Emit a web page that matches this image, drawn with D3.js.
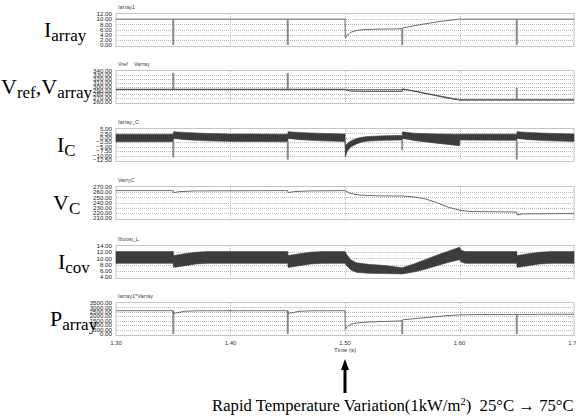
<!DOCTYPE html>
<html lang="en">
<head>
<meta charset="UTF-8">
<title>PV array response to rapid temperature variation</title>
<script src="https://d3js.org/d3.v7.min.js"></script>
<style>
  body { margin: 0; background: #fff; }
  svg { display: block; }
</style>
</head>
<body>
<svg width="576" height="418"></svg>
<script>
// ---- data ----
const timeDomain = [1.30, 1.70];
const timeTicks = [1.30, 1.40, 1.50, 1.60, 1.70];
const timeGrid = [1.40, 1.50, 1.60];

// panel 1: Iarray1 (A)
const iarrayTicks = [0, 2, 4, 6, 8, 10, 12];
const iarrayLine = [[1.30,10],[1.50,10],[1.5003,2.7],[1.502,3.9],[1.505,4.9],[1.51,5.6],[1.515,5.9],[1.525,6.1],
  [1.54,6.2],[1.55,6.3],[1.5503,6.6],[1.56,7.4],[1.57,8.2],[1.58,8.9],[1.59,9.5],[1.60,10],[1.70,10]];
const iarraySpikes = [[1.35,10,0],[1.45,10,0],[1.55,6.3,0],[1.65,10,0]];

// panel 2: Vref, Varray (V)
const vTicks = [260, 270, 280, 290, 300, 310, 320, 330, 340];
const vrefLine = [[1.30,293],[1.50,293],[1.503,292],[1.55,292],[1.5503,294],[1.60,266],[1.70,266]];
const varrayLine = [[1.30,292],[1.50,292],[1.505,288],[1.52,287.5],[1.55,287.5],[1.5503,293],[1.56,288],
  [1.575,279],[1.59,270],[1.60,265],[1.70,265]];
const vrefSpikes = [[1.35,293,335],[1.45,293,335],[1.65,266,297]];

// panel 3: Iarray_C (A) - ripple envelope [t, upper, lower]
const icTicks = [-12.5, -10, -7.5, -5, -2.5, 0, 2.5, 5];
const icBand = [[1.30,2.0,-2.2],[1.35,2.0,-2.2],[1.3503,3.5,-0.3],[1.36,3.0,-1.0],[1.38,2.5,-1.7],[1.40,2.2,-2.0],
  [1.45,2.0,-2.2],[1.4503,3.5,-0.3],[1.46,3.0,-1.0],[1.48,2.5,-1.7],[1.50,2.2,-2.1],
  [1.5003,-4.5,-10.6],[1.502,-3.2,-7.5],[1.505,-1.8,-5.2],[1.51,-0.4,-3.4],[1.515,0.4,-2.4],[1.52,0.8,-1.8],
  [1.535,1.2,-1.4],[1.55,1.4,-1.2],[1.5503,3.4,-0.3],[1.56,2.6,-1.5],[1.58,2.2,-3.0],[1.60,2.0,-4.4],
  [1.6003,2.1,-1.2],[1.63,2.1,-1.3],[1.65,2.1,-1.4],[1.6503,3.5,-0.3],[1.66,3.0,-1.0],[1.68,2.5,-1.7],[1.70,2.2,-2.0]];
const icSpikes = [[1.35,-2,-11],[1.45,-2,-12.3],[1.55,-1,-6.9],[1.65,-1.4,-12.3]];

// panel 4: VarryC (V)
const vcTicks = [210, 220, 230, 240, 250, 260, 270];
const vcLine = [[1.30,263],[1.35,263],[1.3503,259],[1.355,261],[1.37,262.5],[1.45,263],[1.4503,259],[1.455,261],
  [1.47,262.5],[1.50,263],[1.503,259],[1.508,256],[1.515,254],[1.53,252.8],[1.55,252.5],[1.56,251],[1.57,247],
  [1.58,240],[1.59,231],[1.60,225],[1.61,222.5],[1.65,221.5],[1.6503,216],[1.655,218],[1.70,218.5]];

// panel 5: Iboost_L (A) - ripple envelope [t, upper, lower]
const icovTicks = [4, 6, 8, 10, 12, 14];
const icovBand = [[1.30,12.2,8.4],[1.35,12.2,8.4],[1.3503,10.9,7.1],[1.36,11.5,7.6],[1.37,12.0,8.2],[1.38,12.2,8.4],
  [1.45,12.2,8.4],[1.4503,10.9,7.1],[1.46,11.5,7.6],[1.47,12.0,8.2],[1.48,12.2,8.4],[1.50,12.2,8.4],
  [1.502,11.0,7.4],[1.505,9.6,6.3],[1.51,8.6,5.5],[1.52,8.1,5.2],[1.535,7.7,5.1],[1.55,7.0,5.0],[1.56,8.2,5.6],
  [1.57,9.6,6.5],[1.58,11.0,7.6],[1.59,12.3,8.7],[1.60,13.6,9.6],[1.6015,12.6,8.8],[1.605,12.2,8.4],[1.65,12.2,8.4],
  [1.6503,10.9,7.1],[1.66,11.5,7.6],[1.67,12.0,8.2],[1.68,12.2,8.4],[1.70,12.2,8.4]];

// panel 6: Iarray1*Varray (W)
const pTicks = [0, 500, 1000, 1500, 2000, 2500, 3000, 3500];
const pLine = [[1.30,2630],[1.35,2630],[1.3503,2330],[1.36,2560],[1.37,2620],[1.45,2630],[1.4503,2330],[1.46,2560],
  [1.47,2620],[1.50,2630],[1.5003,520],[1.502,850],[1.505,1080],[1.51,1240],[1.52,1350],[1.535,1420],[1.55,1480],
  [1.5503,1600],[1.57,1850],[1.59,2080],[1.60,2160],[1.62,2200],[1.70,2230]];
const pSpikes = [[1.35,2630,0],[1.45,2630,0],[1.55,1480,0],[1.65,2220,0]];

// ---- layout ----
const left = 116, right = 574, panelH = 32;

const panels = [
  {top: 14, domain: [0, 12], ticks: iarrayTicks, titles: [["Iarray1", 0]],
   label: [["I", "array"]], labelX: 44, lines: [iarrayLine], bands: [], spikes: iarraySpikes},
  {top: 71, domain: [260, 340], ticks: vTicks, titles: [["Vref", 0], ["Varray", 16]],
   label: [["V", "ref"], [",", ""], ["V", "array"]], labelX: 1, lines: [vrefLine, varrayLine], bands: [], spikes: vrefSpikes},
  {top: 129, domain: [-12.5, 5], ticks: icTicks, titles: [["Iarray_C", 0]],
   label: [["I", "C"]], labelX: 57, lines: [], bands: [icBand], spikes: icSpikes},
  {top: 187, domain: [210, 270], ticks: vcTicks, titles: [["VarryC", 0]],
   label: [["V", "C"]], labelX: 53, lines: [vcLine], bands: [], spikes: []},
  {top: 246, domain: [4, 14], ticks: icovTicks, titles: [["Iboost_L", 0]],
   label: [["I", "cov"]], labelX: 58, lines: [], bands: [icovBand], spikes: []},
  {top: 303, domain: [0, 3500], ticks: pTicks, titles: [["Iarray1*Varray", 0]],
   label: [["P", "array"]], labelX: 50, lines: [pLine], bands: [], spikes: pSpikes}
];

const svg = d3.select("svg");
const x = d3.scaleLinear().domain(timeDomain).range([left, right]);
const fmt = d3.format(".2f");

panels.forEach(p => {
  const y = d3.scaleLinear().domain(p.domain).range([p.top + panelH - 1, p.top]);
  const g = svg.append("g");

  // frame
  g.append("rect")
    .attr("x", left).attr("y", p.top - 0.5)
    .attr("width", right - left).attr("height", panelH + 1)
    .attr("fill", "none").attr("stroke", "#c4c4c4").attr("stroke-width", 1);

  // dotted grid
  g.selectAll(".hgrid").data(p.ticks.slice(1, -1)).enter().append("line")
    .attr("x1", left).attr("x2", right)
    .attr("y1", d => Math.round(y(d)) + 0.5).attr("y2", d => Math.round(y(d)) + 0.5)
    .attr("stroke", "#b8b8b8").attr("stroke-dasharray", "1,1");
  g.selectAll(".vgrid").data(timeGrid).enter().append("line")
    .attr("x1", d => Math.round(x(d)) + 0.5).attr("x2", d => Math.round(x(d)) + 0.5)
    .attr("y1", p.top).attr("y2", p.top + panelH)
    .attr("stroke", "#b8b8b8").attr("stroke-dasharray", "1,1");

  // y tick labels
  g.selectAll(".ylab").data(p.ticks).enter().append("text")
    .attr("x", left - 4).attr("y", d => y(d))
    .attr("dy", "0.35em").attr("text-anchor", "end")
    .style("font-family", "Liberation Sans, Arial, sans-serif").style("font-size", "6.2px").attr("fill", "#222")
    .text(d => fmt(d));

  // trace titles
  p.titles.forEach(t => {
    g.append("text").attr("x", left + 2 + t[1]).attr("y", p.top - 5)
      .style("font-family", "Liberation Sans, Arial, sans-serif").style("font-size", "5.5px").attr("fill", "#444")
      .text(t[0]);
  });

  // ripple bands
  const area = d3.area().x(d => x(d[0])).y0(d => y(d[2])).y1(d => y(d[1]));
  p.bands.forEach(b => {
    g.append("path").datum(b).attr("d", area)
      .attr("fill", "#3c3c3c").attr("stroke", "#3c3c3c").attr("stroke-width", 0.6);
  });

  // spikes
  g.selectAll(".spike").data(p.spikes).enter().append("line")
    .attr("x1", d => x(d[0])).attr("x2", d => x(d[0]))
    .attr("y1", d => y(d[1])).attr("y2", d => y(d[2]))
    .attr("stroke", "#8a8a8a").attr("stroke-width", 2);

  // traces
  const line = d3.line().x(d => x(d[0])).y(d => y(d[1]));
  p.lines.forEach((l, i) => {
    g.append("path").datum(l).attr("d", line)
      .attr("fill", "none").attr("stroke", i === 0 ? "#6a6a6a" : "#4a4a4a").attr("stroke-width", 1);
  });

  // big left label with subscripts
  const lab = svg.append("text").attr("x", p.labelX).attr("y", p.top + 23)
    .style("font-family", "Liberation Serif, Times New Roman, serif").attr("fill", "#000");
  let shift = 0;
  p.label.forEach(part => {
    lab.append("tspan").style("font-size", "22px").attr("dy", -shift).text(part[0]);
    shift = 0;
    if (part[1]) {
      lab.append("tspan").style("font-size", "17px").attr("dy", 4).text(part[1]);
      shift = 4;
    }
  });
});

// time axis labels
svg.selectAll(".xlab").data(timeTicks).enter().append("text")
  .attr("x", d => x(d)).attr("y", 344.5).attr("text-anchor", "middle")
  .style("font-family", "Liberation Sans, Arial, sans-serif").style("font-size", "6px").attr("fill", "#333")
  .text(d => fmt(d));
svg.append("text").attr("x", x(1.50)).attr("y", 351.5).attr("text-anchor", "middle")
  .style("font-family", "Liberation Sans, Arial, sans-serif").style("font-size", "6px").attr("fill", "#333")
  .text("Time (s)");

// event arrow
const ax = x(1.50);
svg.append("line").attr("x1", ax).attr("x2", ax).attr("y1", 393).attr("y2", 368)
  .attr("stroke", "#000").attr("stroke-width", 3);
svg.append("path").attr("d", `M${ax},359 L${ax - 4},370 L${ax + 4},370 Z`).attr("fill", "#000");

const note = svg.append("text").attr("x", 212).attr("y", 411)
  .style("font-family", "Liberation Serif, Times New Roman, serif").style("font-size", "16.7px").attr("fill", "#000");
note.append("tspan").text("Rapid Temperature Variation(1kW/m");
note.append("tspan").attr("dy", -6).style("font-size", "10.5px").text("2");
note.append("tspan").attr("dy", 6).text(")\u00a0\u00a025\u00b0C \u2192 75\u00b0C");
</script>
</body>
</html>
